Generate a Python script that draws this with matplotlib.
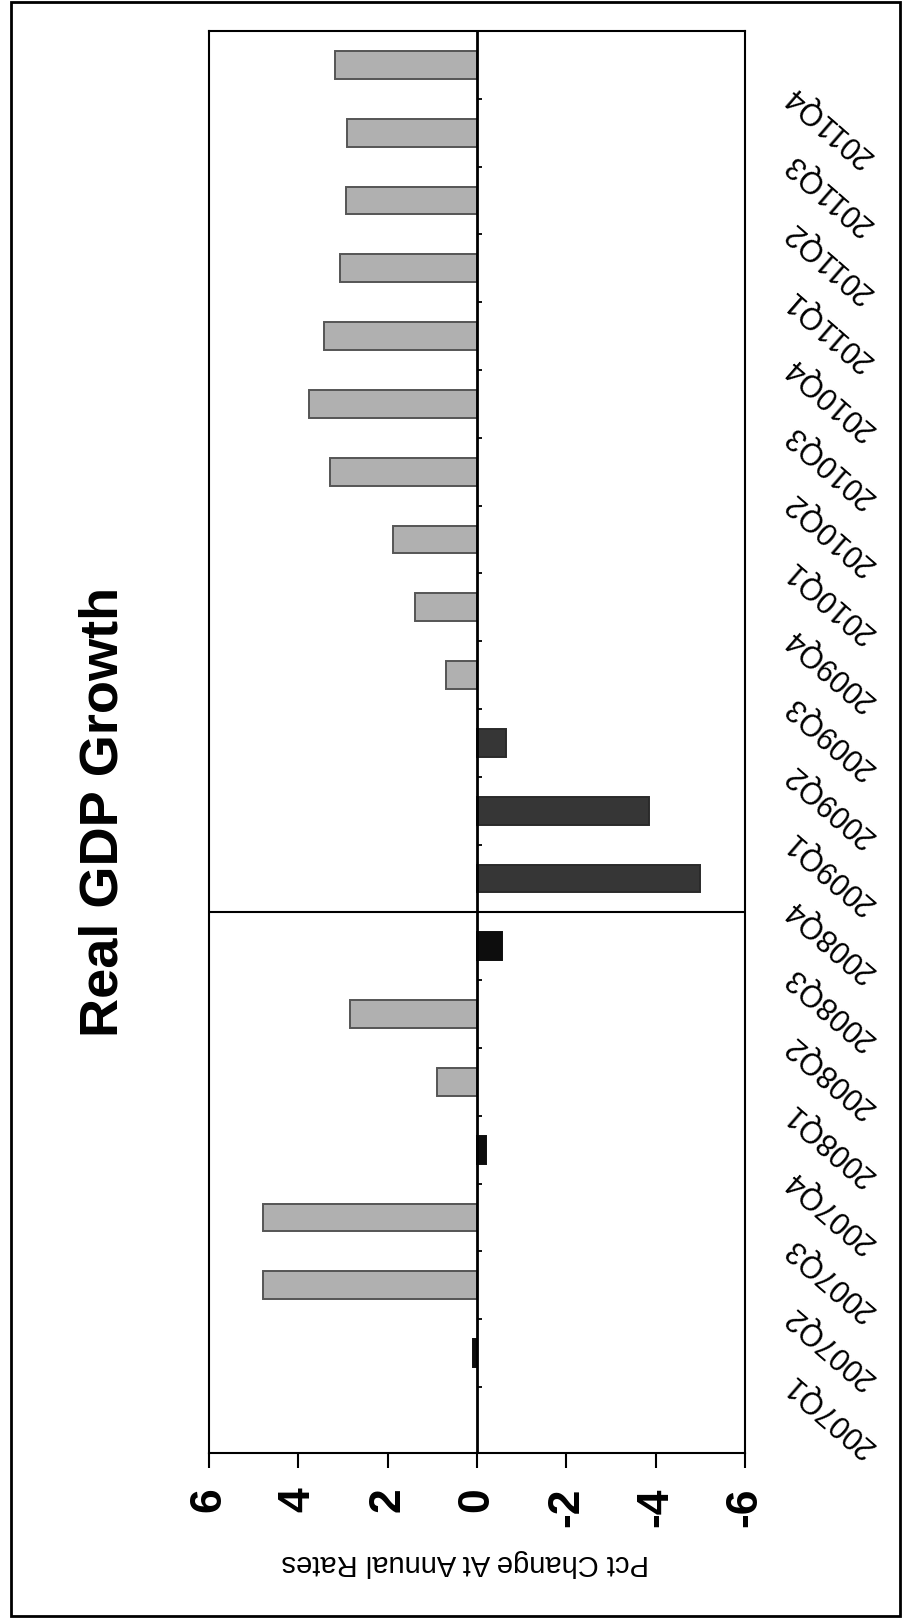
import matplotlib
matplotlib.use("Agg")
import matplotlib.pyplot as plt
import matplotlib.transforms as mtransforms
from matplotlib.patches import Rectangle

# quarterly real GDP growth, pct change at annual rates
quarters = ["2007Q1", "2007Q2", "2007Q3", "2007Q4",
            "2008Q1", "2008Q2", "2008Q3", "2008Q4",
            "2009Q1", "2009Q2", "2009Q3", "2009Q4",
            "2010Q1", "2010Q2", "2010Q3", "2010Q4",
            "2011Q1", "2011Q2", "2011Q3", "2011Q4"]
growth = [0.1, 4.8, 4.8, -0.2,
          0.9, 2.85, -0.55, -5.0,
          -3.85, -0.65, 0.7, 1.38,
          1.88, 3.3, 3.76, 3.42,
          3.06, 2.93, 2.9, 3.19]
value_ticks = [6, 4, 2, 0, -2, -4, -6]
split_quarter = "2008Q4"

plt.rcParams["font.family"] = ["Liberation Sans", "DejaVu Sans"]

fig = plt.figure(figsize=(9.03, 16.2), dpi=100)
W, H = 903, 1620
left, right, top, bottom = 209, 745, 31, 1453
ax = fig.add_axes([left / W, 1 - bottom / H, (right - left) / W, (bottom - top) / H])

split = quarters.index(split_quarter)
pos = list(range(len(quarters)))
colors, edges = [], []
for i, v in enumerate(growth):
    if i < split and v < 0.5:
        # small bars before the split print solid black
        colors.append("#0d0d0d")
        edges.append("#0d0d0d")
    elif v >= 0:
        colors.append("#b0b0b0")
        edges.append("#555555")
    else:
        colors.append("#363636")
        edges.append("#2a2a2a")

ax.barh(pos, growth, height=0.41, color=colors, edgecolor=edges, linewidth=1.4, zorder=2)

ax.set_xlim(6, -6)
ax.set_ylim(-1.475, 19.5)

# zero line with little category ticks on it
ax.axvline(0, color="black", lw=2, zorder=3)
bounds = [p - 0.5 for p in pos] + [pos[-1] + 0.5]
ax.hlines(bounds, 0, -0.12, color="black", lw=1.3, zorder=3)

# divider between history and forecast
ax.axhline(split - 0.5, color="black", lw=1.5, zorder=3)

for s in ax.spines.values():
    s.set_linewidth(1.5)

ax.set_xticks(value_ticks)
ax.set_xticklabels([str(t) for t in value_ticks], rotation=90,
                   fontsize=32, fontweight="bold")
ax.tick_params(axis="x", direction="out", length=11, width=1.5, pad=14)
ax.set_yticks([])

# quarter labels on the right, slanted
shift = mtransforms.ScaledTranslation(0, -0.26, fig.dpi_scale_trans)
for p, q in zip(pos, quarters):
    ax.text((789 - left) / (right - left), p, q, transform=ax.get_yaxis_transform() + shift,
            rotation=139, rotation_mode="anchor", ha="right", va="center", fontsize=22)

fig.text(465 / W, 1 - 1563 / H, "Pct Change At Annual Rates", rotation=180,
         ha="center", va="center", fontsize=21)
fig.text(104 / W, 1 - 812 / H, "Real GDP Growth", rotation=90,
         ha="center", va="center", fontsize=39, fontweight="bold")

# page border of the scan
fig.patches.append(Rectangle((11 / W, 1 - 1616 / H), (900 - 11) / W, (1616 - 2) / H,
                             transform=fig.transFigure, fill=False, lw=2, ec="black"))

fig.savefig("out.png", dpi=100)
